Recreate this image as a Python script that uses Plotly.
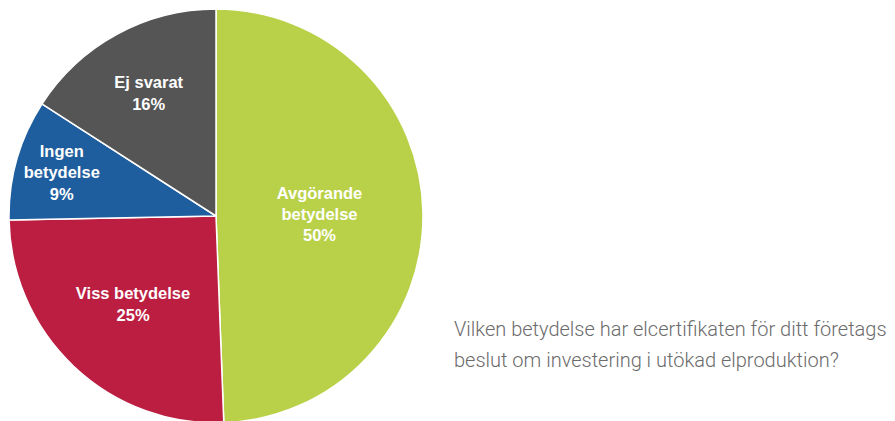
import plotly.graph_objects as go

# andelar uppskattade från bilden (procent av svaren)
categories = ["Avgörande<br>betydelse", "Viss betydelse", "Ingen<br>betydelse", "Ej svarat"]
shares = [49.4, 25.3, 9.4, 15.9]
pct_labels = ["50%", "25%", "9%", "16%"]
colors = ["#b9d148", "#bb1e40", "#1f5e9e", "#555555"]

question = ["Vilken betydelse har elcertifikaten för ditt företags",
            "beslut om investering i utökad elproduktion?"]

W, H = 895, 421

fig = go.Figure()
fig.add_trace(
    go.Pie(labels=categories, values=shares,
           text=pct_labels,
           texttemplate="%{label}<br>%{text}",
           textposition="inside",
           insidetextorientation="horizontal",
           textfont=dict(family="Liberation Sans", size=16.5, color="white", weight="bold"),
           marker=dict(colors=colors, line=dict(color="white", width=1.5)),
           sort=False, direction="clockwise", rotation=0,
           hoverinfo="label+text",
           domain=dict(x=[1 / W, 415 / W], y=[(H - 415) / H, (H - 1) / H]),
           showlegend=False)
)

for i, line in enumerate(question):
    fig.add_annotation(text=line, x=444 / W, y=1 - (321 + 31 * i) / H,
                       xref="paper", yref="paper", xanchor="left", yanchor="middle",
                       showarrow=False, align="left",
                       font=dict(family="Roboto", size=20, color="#6b6b6b", weight=300))

fig.update_layout(width=W, height=H,
                  margin={'t': 0, 'b': 0, 'l': 0, 'r': 0},
                  paper_bgcolor="white", plot_bgcolor="white",
                  uniformtext=dict(minsize=16.5, mode="show"))

fig.write_html("out.html")
